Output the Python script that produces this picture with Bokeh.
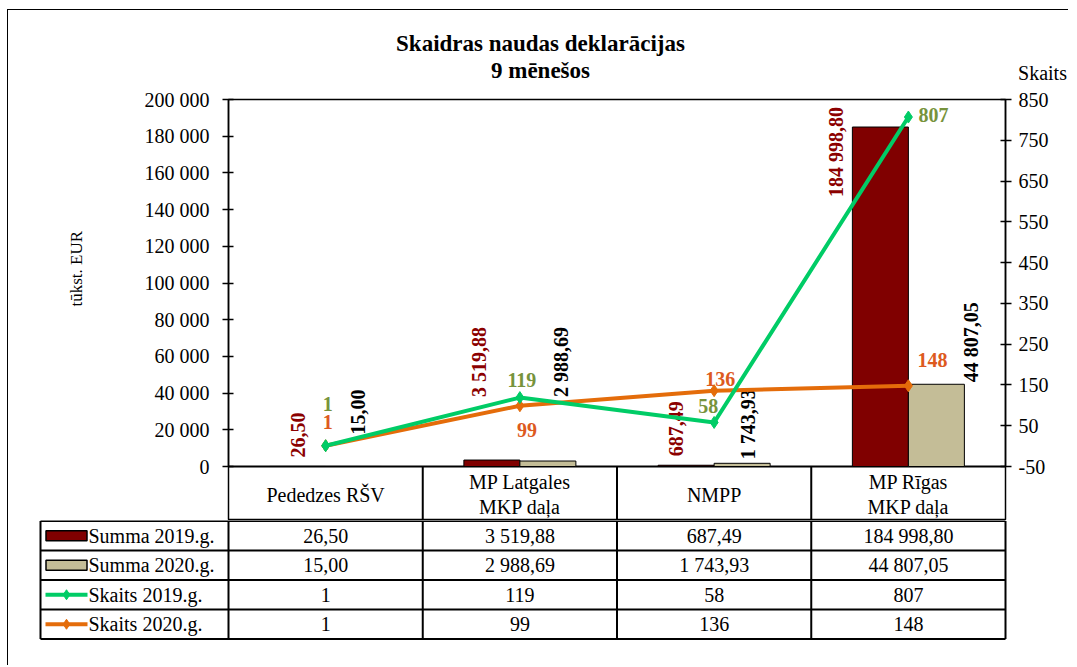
import math
from bokeh.plotting import figure
from bokeh.models import Range1d, LinearAxis, FixedTicker, ColumnDataSource, Title
from bokeh.embed import file_html
from bokeh.resources import INLINE
from bokeh.core.properties import value

# ---------------- data ----------------
categories = ["Pededzes RŠV", "MP Latgales\nMKP daļa", "NMPP", "MP Rīgas\nMKP daļa"]
series_names = ["Summa 2019.g.", "Summa 2020.g.", "Skaits 2019.g.", "Skaits 2020.g."]
summa_2019 = [26.50, 3519.88, 687.49, 184998.80]
summa_2020 = [15.00, 2988.69, 1743.93, 44807.05]
skaits_2019 = [1, 119, 58, 807]
skaits_2020 = [1, 99, 136, 148]
left_ticks = list(range(0, 200001, 20000))
right_ticks = list(range(-50, 851, 100))
title_lines = ["Skaidras naudas deklarācijas", "9 mēnešos"]
left_label = "tūkst. EUR"
right_label = "Skaits"

# ---------------- styles / label placement (pixels) ----------------
C19, C20 = "#800000", "#C4BD97"
CG, CO = "#00CC66", "#E46C0A"
LBL19, LBL20 = "#8B0000", "#000000"
LBLG, LBLO = "#77933C", "#DD5A1E"
FONT = "Liberation Serif"
bar19_dx = [0, -13, -10, -44]
bar19_dy = [-9, -63, -9, 70]
bar20_dx = [4, 13, 6, 35]
bar20_dy = [-32, -64, -4, -2]
sk19_dx = [2, 2, -6, 25]
sk19_dy = [-42, -18, -16, -2]
sk20_dx = [2, 7, 6, 24]
sk20_dy = [-24, 24, -12, -26]

W = 1061
X0 = 8                       # page x of all canvases
N = len(categories)
AXL, AXR = 228, 1005         # page x of plot area left / right
ATOP, ABASE, AHEAD = 100, 467, 521   # page y: plot top, zero line, header bottom
PXX = (AXR - AXL) / N
BARW = 56 / PXX


def lv(v, dec=2):
    s = f"{v:,.{dec}f}"
    return s.replace(",", " ").replace(".", ",")


def bx(page_x):
    return (page_x - AXL) / PXX


def ly(page_y):
    return left_ticks[-1] * (ABASE - page_y) / (ABASE - ATOP)


def ry(page_y):
    lo, hi = right_ticks[0], right_ticks[-1]
    return lo + (hi - lo) * (ABASE - page_y) / (ABASE - ATOP)


def text_kw(size, bold=False, color="black"):
    return dict(text_font=value(FONT), text_font_size=f"{size}px",
                text_font_style="bold" if bold else "normal", text_color=color)


# ---------------- header (title) ----------------
H_TOP, H_BOT = 10, 88
h = figure(width=W, height=H_BOT - H_TOP, x_range=Range1d(X0, X0 + W),
           y_range=Range1d(H_BOT, H_TOP), output_backend="svg", toolbar_location=None,
           x_axis_location=None, y_axis_location=None, min_border=0,
           min_border_left=0, min_border_right=0, min_border_top=0, min_border_bottom=0,
           outline_line_color=None,
           styles={"margin-left": "7px", "margin-top": "9px",
                   "border-left": "1px solid black", "border-top": "1px solid black"})
h.grid.visible = False
h.text(x=[540, 540], y=[43, 70], text=title_lines, text_align="center",
       text_baseline="middle", **text_kw(23, bold=True))
h.text(x=[1042], y=[72], text=[right_label], text_align="center", text_baseline="middle",
       **text_kw(20))

# ---------------- chart ----------------
A_TOP = H_BOT
p = figure(width=W, height=AHEAD - A_TOP, x_range=Range1d(0, N),
           y_range=Range1d(ly(AHEAD), left_ticks[-1]),
           output_backend="svg", toolbar_location=None, x_axis_location=None,
           min_border_left=AXL - X0, min_border_right=W - (AXR - X0),
           min_border_top=ATOP - A_TOP, min_border_bottom=0,
           outline_line_color="black", outline_line_width=1.5,
           styles={"margin-left": "7px", "border-left": "1px solid black"})
p.grid.visible = False
p.extra_y_ranges = {"skaits": Range1d(ry(AHEAD), right_ticks[-1])}


def style_axis(a, standoff):
    a.minor_tick_line_color = None
    a.major_tick_in = 5
    a.major_tick_out = 6
    a.major_label_standoff = standoff
    a.axis_line_width = 1.5
    a.major_tick_line_width = 1.5
    a.major_label_text_font = FONT
    a.major_label_text_font_size = "20px"
    a.major_label_text_color = "black"


ya = p.yaxis[0]
ya.ticker = FixedTicker(ticks=left_ticks)
ya.bounds = (left_ticks[0], left_ticks[-1])
ya.major_label_overrides = {t: lv(t, 0) for t in left_ticks}
style_axis(ya, 13)

# left axis caption, placed in the left panel beyond the tick labels
p.add_layout(Title(text=left_label, align="left", offset=AHEAD - 307, standoff=112,
                   vertical_align="bottom", text_font=FONT, text_font_size="17px",
                   text_font_style="normal", text_color="black"), "left")

ra = LinearAxis(y_range_name="skaits", ticker=FixedTicker(ticks=right_ticks),
                bounds=(right_ticks[0], right_ticks[-1]))
ra.major_label_overrides = {t: str(t) for t in right_ticks}
style_axis(ra, 7)
p.add_layout(ra, "right")

# header row of the data table (category names) and zero line
p.segment(x0=[0], y0=[0], x1=[N], y1=[0], line_color="black", line_width=2)
sep = list(range(1, N))
p.segment(x0=sep, y0=[0] * len(sep), x1=sep, y1=[ly(AHEAD)] * len(sep),
          line_color="black", line_width=2)

xc = [i + 0.5 for i in range(N)]
p.text(x=xc, y=[ly((ABASE + AHEAD) / 2 + 1)] * N, text=categories, text_align="center",
       text_baseline="middle", text_line_height=1.15, **text_kw(20))

x19 = [x - BARW / 2 for x in xc]
x20 = [x + BARW / 2 for x in xc]
src19 = ColumnDataSource(dict(x=x19, top=summa_2019, txt=[lv(v) for v in summa_2019],
                              dx=bar19_dx, dy=bar19_dy))
src20 = ColumnDataSource(dict(x=x20, top=summa_2020, txt=[lv(v) for v in summa_2020],
                              dx=bar20_dx, dy=bar20_dy))
p.vbar(x="x", top="top", bottom=0, width=BARW, source=src19, fill_color=C19,
       line_color="black", line_width=1)
p.vbar(x="x", top="top", bottom=0, width=BARW, source=src20, fill_color=C20,
       line_color="black", line_width=1)
for src, col in ((src19, LBL19), (src20, LBL20)):
    p.text(x="x", y="top", text="txt", source=src, angle=math.pi / 2,
           x_offset="dx", y_offset="dy", text_align="left", text_baseline="middle",
           **text_kw(20, bold=True, color=col))

sk19 = ColumnDataSource(dict(x=xc, y=skaits_2019, txt=[str(v) for v in skaits_2019],
                             dx=sk19_dx, dy=sk19_dy))
sk20 = ColumnDataSource(dict(x=xc, y=skaits_2020, txt=[str(v) for v in skaits_2020],
                             dx=sk20_dx, dy=sk20_dy))
for src, col in ((sk20, CO), (sk19, CG)):
    p.line(x="x", y="y", source=src, y_range_name="skaits", line_color=col, line_width=4)
    p.scatter(x="x", y="y", source=src, y_range_name="skaits", marker="diamond",
              size=12, fill_color=col, line_color=col)
for src, lcol in ((sk19, LBLG), (sk20, LBLO)):
    p.text(x="x", y="y", text="txt", source=src, y_range_name="skaits",
           x_offset="dx", y_offset="dy", text_align="center", text_baseline="middle",
           **text_kw(20, bold=True, color=lcol))

# ---------------- data table rows ----------------
ROW = 29.5
B_TOP = AHEAD
B_FB = 645
BL, BR = 36, 1009
LEG_L = bx(40)
t = figure(width=W, height=(B_FB - B_TOP) + 21,
           x_range=Range1d(bx(BL), bx(BR)),
           y_range=Range1d(-(B_FB - B_TOP - 0.5) / ROW, 0.5 / ROW),
           output_backend="svg", toolbar_location=None, x_axis_location=None,
           y_axis_location=None, min_border_left=BL - X0,
           min_border_right=W - (BR - X0), min_border_top=0, min_border_bottom=21,
           outline_line_color=None,
           styles={"margin-left": "7px", "border-left": "1px solid black"})
t.grid.visible = False

nrows = len(series_names)
vx = [LEG_L] + list(range(N + 1))
t.segment(x0=vx, y0=[0] * len(vx), x1=vx, y1=[-nrows] * len(vx), line_color="black",
          line_width=2)
hy = [-k for k in range(nrows + 1)]
t.segment(x0=[LEG_L] * len(hy), y0=hy, x1=[N] * len(hy), y1=hy, line_color="black",
          line_width=2)

row_vals = [[lv(v) for v in summa_2019], [lv(v) for v in summa_2020],
            [str(v) for v in skaits_2019], [str(v) for v in skaits_2020]]
row_y = [-(k + 0.5) for k in range(nrows)]
for vals, yc in zip(row_vals, row_y):
    t.text(x=xc, y=[yc] * N, text=vals, text_align="center", text_baseline="middle",
           **text_kw(20))

sw_l, sw_r = bx(45), bx(87)
t.text(x=[bx(88)] * nrows, y=row_y, text=series_names, text_align="left",
       text_baseline="middle", **text_kw(20))
t.rect(x=[(sw_l + sw_r) / 2] * 2, y=row_y[:2], width=41, height=10, width_units="screen",
       height_units="screen", fill_color=[C19, C20], line_color="black", line_width=1.5)
for yc, col in zip(row_y[2:], (CG, CO)):
    t.segment(x0=[sw_l], y0=[yc], x1=[sw_r], y1=[yc], line_color=col, line_width=4)
    t.scatter(x=[(sw_l + sw_r) / 2], y=[yc], marker="diamond", size=10, fill_color=col,
              line_color=col)

open("out.html", "w").write(file_html([h, p, t], INLINE))
